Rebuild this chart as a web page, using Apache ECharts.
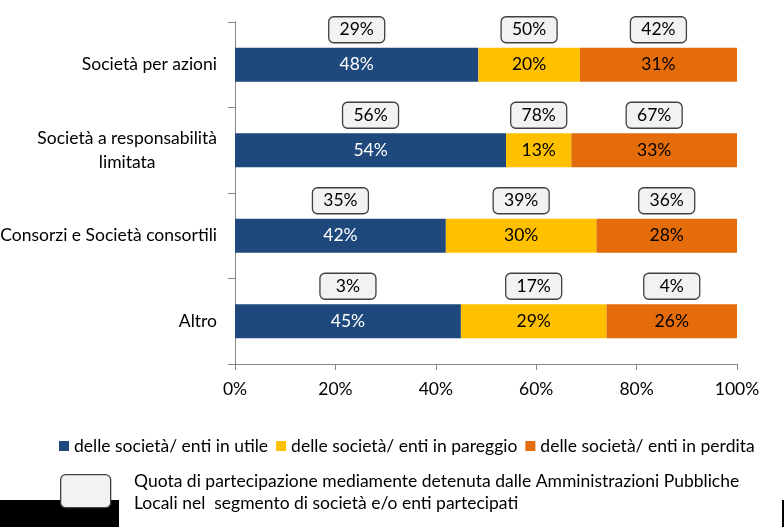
<!DOCTYPE html>
<html>
<head>
<meta charset="utf-8">
<script src="https://cdn.jsdelivr.net/npm/echarts@6/dist/echarts.min.js"></script>
<style>
html,body{margin:0;padding:0;background:#fff;}
#chart{width:784px;height:527px;}
</style>
</head>
<body>
<div id="chart"></div>
<script>
const categories = ['Società per azioni', 'Società a responsabilità\nlimitata', 'Consorzi e Società consortili', 'Altro'];
const seriesNames = ['delle società/ enti in utile', 'delle società/ enti in pareggio', 'delle società/ enti in perdita'];
const inUtile = [48, 54, 42, 45];
const inPareggio = [20, 13, 30, 29];
const inPerdita = [31, 33, 28, 26];
const quotaUtile = [29, 56, 35, 3];
const quotaPareggio = [50, 78, 39, 17];
const quotaPerdita = [42, 67, 36, 4];
const xTicks = [0, 20, 40, 60, 80, 100];
const noteText = 'Quota di partecipazione mediamente detenuta dalle Amministrazioni Pubbliche\nLocali nel  segmento di società e/o enti partecipati';

const FONT = 'Lato';
const FS = 17.5;
const colors = ['#1F497D', '#FFC000', '#E46C0A'];
const labelColors = ['#ffffff', '#000000', '#000000'];
const raw = [inUtile, inPareggio, inPerdita];
const quotas = [quotaUtile, quotaPareggio, quotaPerdita];
const totals = categories.map((c, i) => raw.reduce((s, arr) => s + arr[i], 0));
const shares = raw.map(arr => arr.map((v, i) => v / totals[i] * 100));

const series = [];
shares.forEach((arr, si) => {
  series.push({
    name: seriesNames[si],
    type: 'bar',
    stack: 'tot',
    barWidth: 34,
    itemStyle: { color: colors[si] },
    label: {
      show: true,
      position: 'inside',
      fontFamily: FONT,
      fontSize: FS,
      color: labelColors[si],
      formatter: p => raw[si][p.dataIndex] + '%'
    },
    data: arr
  });
});

// callout boxes above each segment
const calloutData = [];
categories.forEach((c, ci) => {
  let start = 0;
  shares.forEach((arr, si) => {
    calloutData.push([start + arr[ci] / 2, ci, quotas[si][ci]]);
    start += arr[ci];
  });
});
series.push({
  type: 'custom',
  name: 'quota',
  data: calloutData,
  encode: { x: 0, y: 1 },
  z: 10,
  renderItem: function (params, api) {
    const p = api.coord([api.value(0), api.value(1)]);
    const w = 56, h = 26;
    const cy = p[1] - 35;
    return {
      type: 'group',
      children: [
        { type: 'rect', shape: { x: p[0] - w / 2, y: cy - h / 2, width: w, height: h, r: 5 },
          style: { fill: '#F2F2F2', stroke: '#404040', lineWidth: 1.3 } },
        { type: 'text', style: { x: p[0], y: cy, text: api.value(2) + '%', align: 'center', verticalAlign: 'middle',
          font: FS + 'px ' + FONT, fill: '#000' } }
      ]
    };
  }
});

const chart = echarts.init(document.getElementById('chart'), null, { renderer: 'canvas' });
chart.setOption({
  animation: false,
  backgroundColor: '#ffffff',
  textStyle: { fontFamily: FONT },
  grid: { left: 235, right: 47, top: 22, bottom: 163, containLabel: false, outerBoundsMode: 'none' },
  legend: {
    data: seriesNames,
    left: 54,
    top: 432,
    itemWidth: 10,
    itemHeight: 10,
    itemGap: 8,
    icon: 'rect',
    textStyle: { fontFamily: FONT, fontSize: FS, color: '#000' }
  },
  xAxis: {
    type: 'value',
    min: 0, max: 100, interval: 20,
    axisLine: { show: true, lineStyle: { color: '#868686' } },
    axisTick: { show: true, length: 6, lineStyle: { color: '#868686' } },
    splitLine: { show: false },
    axisLabel: { margin: 16, fontFamily: FONT, fontSize: FS, color: '#000',
      formatter: v => xTicks.includes(v) ? v + '%' : '' }
  },
  yAxis: {
    type: 'category',
    inverse: true,
    data: categories,
    axisLine: { show: true, lineStyle: { color: '#868686' } },
    axisTick: { show: true, length: 7, lineStyle: { color: '#868686' } },
    axisLabel: {
      margin: 18, fontFamily: FONT, fontSize: FS, color: '#000', lineHeight: 24,
      formatter: v => v.split('\n').map(l => '{c|' + l + '}').join('\n'),
      rich: { c: { align: 'center', fontFamily: FONT, fontSize: FS, color: '#000', lineHeight: 24 } }
    }
  },
  series: series,
  graphic: [
    { type: 'rect', left: 0, top: 500, shape: { width: 119, height: 27 }, style: { fill: '#000' }, z: 1 },
    { type: 'rect', left: 782, top: 500, shape: { width: 2, height: 27 }, style: { fill: '#000' }, z: 1 },
    { type: 'rect', left: 60, top: 474, shape: { width: 50, height: 33, r: 5 }, style: { fill: '#F2F2F2', stroke: '#404040', lineWidth: 1.3 }, z: 5 },
    { type: 'text', left: 134, top: 470, style: { text: noteText, font: FS + 'px ' + FONT, fill: '#000', lineHeight: 22 }, z: 5 }
  ]
});
</script>
</body>
</html>
